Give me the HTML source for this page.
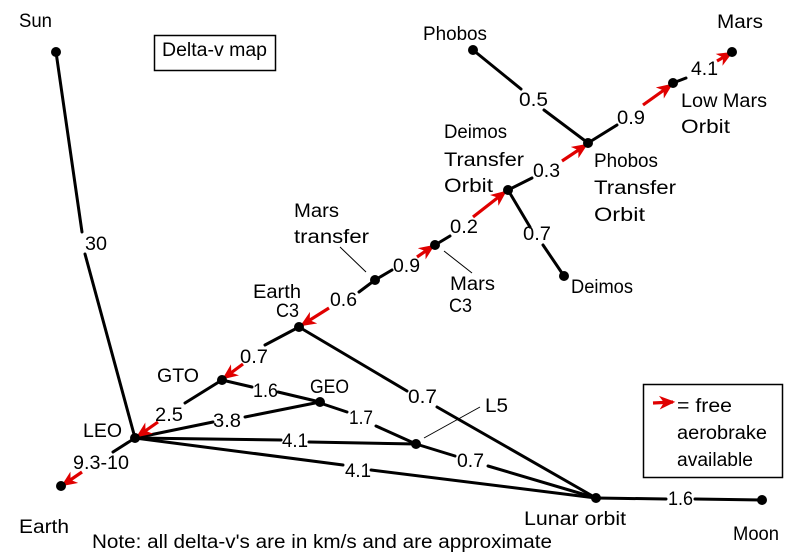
<!DOCTYPE html>
<html>
<head>
<meta charset="utf-8">
<style>
  html, body { margin:0; padding:0; background:#fff; }
  svg { display:block; }
  text { font-family: "Liberation Sans", "DejaVu Sans", sans-serif; font-size:19px; fill:#000; }
</style>
</head>
<body>
<svg width="800" height="554" viewBox="0 0 800 554" xmlns="http://www.w3.org/2000/svg">
  <defs>
    <marker id="ah" viewBox="0 0 14 12" refX="12" refY="6" markerWidth="16" markerHeight="14" markerUnits="userSpaceOnUse" orient="auto">
      <path d="M0,0 L14,6 L0,12 L4,6 z" fill="#e00000"/>
    </marker>
  </defs>
  <rect width="800" height="554" fill="#fff"/>

  <g stroke="#000" stroke-width="3" stroke-linecap="round" fill="none">
    <line x1="56" y1="52" x2="82" y2="232"/>
    <line x1="85" y1="254" x2="135" y2="438"/>
    <line x1="135" y1="438" x2="113" y2="452"/>
    <line x1="222" y1="380" x2="185" y2="403"/>
    <line x1="299" y1="327" x2="265" y2="345"/>
    <line x1="222" y1="380" x2="252" y2="387"/>
    <line x1="278" y1="392" x2="320" y2="402"/>
    <line x1="135" y1="438" x2="213" y2="422"/>
    <line x1="245" y1="417" x2="320" y2="402"/>
    <line x1="320" y1="403" x2="347" y2="412"/>
    <line x1="376" y1="426" x2="416" y2="444"/>
    <line x1="135" y1="438" x2="281" y2="440"/>
    <line x1="309" y1="442" x2="416" y2="444"/>
    <line x1="416" y1="444" x2="455" y2="456"/>
    <line x1="488" y1="466" x2="596" y2="498"/>
    <line x1="135" y1="438" x2="343" y2="465"/>
    <line x1="371" y1="470" x2="596" y2="498"/>
    <line x1="299" y1="327" x2="407" y2="391"/>
    <line x1="437" y1="407" x2="596" y2="498"/>
    <line x1="596" y1="498" x2="666" y2="499"/>
    <line x1="695" y1="499" x2="762" y2="500"/>
    <line x1="375" y1="280" x2="359" y2="292"/>
    <line x1="375" y1="280" x2="392" y2="270"/>
    <line x1="435" y1="245" x2="450" y2="236"/>
    <line x1="508" y1="190" x2="530" y2="227"/>
    <line x1="543" y1="245" x2="564" y2="276"/>
    <line x1="508" y1="190" x2="532" y2="178"/>
    <line x1="473" y1="50" x2="521" y2="89"/>
    <line x1="544" y1="110" x2="588" y2="143"/>
    <line x1="588" y1="143" x2="617" y2="125"/>
    <line x1="673" y1="83" x2="686" y2="78"/>
  </g>

  <g stroke="#000" stroke-width="1" fill="none">
    <line x1="340" y1="247" x2="366" y2="272"/>
    <line x1="444" y1="251" x2="472" y2="273"/>
    <line x1="424" y1="438" x2="480" y2="407"/>
  </g>

  <g stroke="#e00000" stroke-width="3.2" fill="none" marker-end="url(#ah)">
    <line x1="82" y1="472" x2="63" y2="485"/>
    <line x1="158" y1="422" x2="138" y2="436"/>
    <line x1="243" y1="364" x2="224" y2="378"/>
    <line x1="329" y1="308" x2="302" y2="325"/>
    <line x1="417" y1="257" x2="433" y2="246"/>
    <line x1="473" y1="217" x2="505" y2="192"/>
    <line x1="562" y1="161" x2="586" y2="145"/>
    <line x1="643" y1="105" x2="671" y2="85"/>
    <line x1="717" y1="61" x2="731" y2="53"/>
    <line x1="653" y1="403" x2="673" y2="402"/>
  </g>

  <g fill="#000">
    <circle cx="56" cy="52" r="5"/>
    <circle cx="135" cy="438" r="5"/>
    <circle cx="61" cy="486" r="5"/>
    <circle cx="222" cy="380" r="5"/>
    <circle cx="320" cy="402" r="5"/>
    <circle cx="299" cy="327" r="5"/>
    <circle cx="375" cy="280" r="5"/>
    <circle cx="435" cy="245" r="5"/>
    <circle cx="508" cy="190" r="5"/>
    <circle cx="588" cy="143" r="5"/>
    <circle cx="473" cy="50" r="5"/>
    <circle cx="673" cy="83" r="5"/>
    <circle cx="732" cy="52" r="5"/>
    <circle cx="564" cy="276" r="5"/>
    <circle cx="416" cy="444" r="5"/>
    <circle cx="596" cy="498" r="5"/>
    <circle cx="762" cy="500" r="5"/>
  </g>

  <rect x="154.5" y="35.5" width="121" height="35" fill="none" stroke="#000" stroke-width="1.5"/>
  <rect x="643.5" y="384.5" width="139" height="93" fill="none" stroke="#000" stroke-width="1.5"/>

  <g>
    <text x="19" y="27" textLength="33" lengthAdjust="spacingAndGlyphs">Sun</text>
    <text x="162" y="56" textLength="105" lengthAdjust="spacingAndGlyphs">Delta-v map</text>
    <text x="85" y="250" textLength="22" lengthAdjust="spacingAndGlyphs">30</text>

    <text x="423" y="40" textLength="64" lengthAdjust="spacingAndGlyphs">Phobos</text>
    <text x="717" y="28" textLength="46" lengthAdjust="spacingAndGlyphs">Mars</text>
    <text x="691" y="75" textLength="27" lengthAdjust="spacingAndGlyphs">4.1</text>
    <text x="681" y="107" textLength="86" lengthAdjust="spacingAndGlyphs">Low Mars</text>
    <text x="681" y="133" textLength="49" lengthAdjust="spacingAndGlyphs">Orbit</text>
    <text x="519" y="106" textLength="29" lengthAdjust="spacingAndGlyphs">0.5</text>
    <text x="617" y="124" textLength="28" lengthAdjust="spacingAndGlyphs">0.9</text>

    <text x="444" y="138" textLength="63" lengthAdjust="spacingAndGlyphs">Deimos</text>
    <text x="444" y="166" textLength="80" lengthAdjust="spacingAndGlyphs">Transfer</text>
    <text x="444" y="192" textLength="49" lengthAdjust="spacingAndGlyphs">Orbit</text>
    <text x="533" y="177" textLength="27" lengthAdjust="spacingAndGlyphs">0.3</text>

    <text x="594" y="167" textLength="64" lengthAdjust="spacingAndGlyphs">Phobos</text>
    <text x="594" y="194" textLength="82" lengthAdjust="spacingAndGlyphs">Transfer</text>
    <text x="594" y="221" textLength="51" lengthAdjust="spacingAndGlyphs">Orbit</text>

    <text x="523" y="240" textLength="28" lengthAdjust="spacingAndGlyphs">0.7</text>
    <text x="571" y="293" textLength="62" lengthAdjust="spacingAndGlyphs">Deimos</text>

    <text x="294" y="217" textLength="45" lengthAdjust="spacingAndGlyphs">Mars</text>
    <text x="294" y="243" textLength="75" lengthAdjust="spacingAndGlyphs">transfer</text>
    <text x="393" y="272" textLength="27" lengthAdjust="spacingAndGlyphs">0.9</text>
    <text x="450" y="233" textLength="28" lengthAdjust="spacingAndGlyphs">0.2</text>
    <text x="450" y="290" textLength="45" lengthAdjust="spacingAndGlyphs">Mars</text>
    <text x="449" y="312" textLength="23" lengthAdjust="spacingAndGlyphs">C3</text>

    <text x="253" y="298" textLength="48" lengthAdjust="spacingAndGlyphs">Earth</text>
    <text x="276" y="317" textLength="23" lengthAdjust="spacingAndGlyphs">C3</text>
    <text x="330" y="306" textLength="27" lengthAdjust="spacingAndGlyphs">0.6</text>

    <text x="240" y="363" textLength="28" lengthAdjust="spacingAndGlyphs">0.7</text>
    <text x="157" y="382" textLength="42" lengthAdjust="spacingAndGlyphs">GTO</text>
    <text x="253" y="397" textLength="25" lengthAdjust="spacingAndGlyphs">1.6</text>
    <text x="310" y="393" textLength="39" lengthAdjust="spacingAndGlyphs">GEO</text>
    <text x="155" y="421" textLength="28" lengthAdjust="spacingAndGlyphs">2.5</text>
    <text x="213" y="427" textLength="28" lengthAdjust="spacingAndGlyphs">3.8</text>
    <text x="83" y="437" textLength="39" lengthAdjust="spacingAndGlyphs">LEO</text>
    <text x="282" y="447" textLength="26" lengthAdjust="spacingAndGlyphs">4.1</text>
    <text x="73" y="469" textLength="56" lengthAdjust="spacingAndGlyphs">9.3-10</text>
    <text x="19" y="533" textLength="50" lengthAdjust="spacingAndGlyphs">Earth</text>

    <text x="408" y="403" textLength="29" lengthAdjust="spacingAndGlyphs">0.7</text>
    <text x="485" y="412" textLength="23" lengthAdjust="spacingAndGlyphs">L5</text>
    <text x="349" y="424" textLength="24" lengthAdjust="spacingAndGlyphs">1.7</text>
    <text x="457" y="467" textLength="27" lengthAdjust="spacingAndGlyphs">0.7</text>
    <text x="345" y="477" textLength="26" lengthAdjust="spacingAndGlyphs">4.1</text>
    <text x="524" y="525" textLength="102" lengthAdjust="spacingAndGlyphs">Lunar orbit</text>

    <text x="677" y="412" textLength="55" lengthAdjust="spacingAndGlyphs">= free</text>
    <text x="677" y="439" textLength="90" lengthAdjust="spacingAndGlyphs">aerobrake</text>
    <text x="677" y="466" textLength="76" lengthAdjust="spacingAndGlyphs">available</text>
    <text x="668" y="505" textLength="25" lengthAdjust="spacingAndGlyphs">1.6</text>
    <text x="733" y="540" textLength="46" lengthAdjust="spacingAndGlyphs">Moon</text>

    <text x="92" y="548" textLength="460" lengthAdjust="spacingAndGlyphs">Note: all delta-v's are in km/s and are approximate</text>
  </g>
</svg>
</body>
</html>
